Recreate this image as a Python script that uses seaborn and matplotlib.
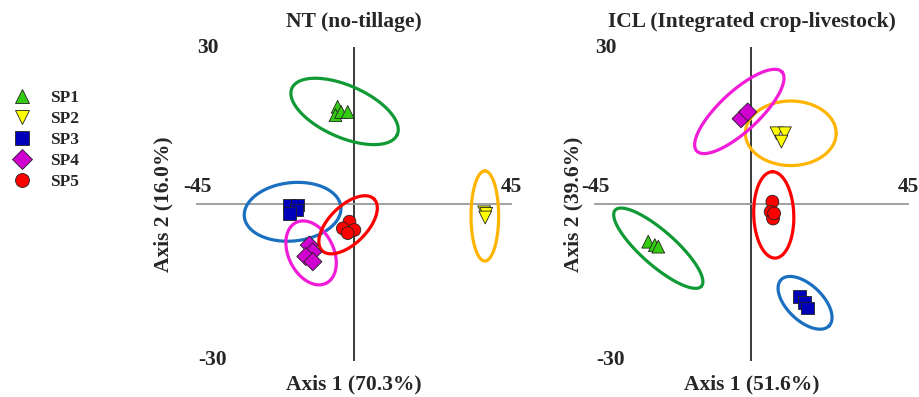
import numpy as np
import pandas as pd
import seaborn as sns
import matplotlib.pyplot as plt
from matplotlib.lines import Line2D

# PCA-like score plots for two systems, with hand-read confidence ellipses

species = ['SP1', 'SP2', 'SP3', 'SP4', 'SP5']
point_colors = ['#33cc11', '#ffff00', '#0000bb', '#d000d0', '#ff0000']
ring_colors = ['#109a35', '#ffb400', '#1a6fc0', '#f21bd8', '#ff0000']
marker_shapes = ['^', 'v', 's', 'D', 'o']

# NT (no-tillage) scores
nt_sp = ['SP1'] * 4 + ['SP2'] * 3 + ['SP3'] * 4 + ['SP4'] * 4 + ['SP5'] * 4
nt_x = [-4.7, -5.3, -3.7, -1.8,
        37.3, 37.9, 37.6,
        -18.5, -16.2, -16.4, -18.5,
        -12.8, -11.8, -13.8, -11.8,
        -1.3, -3.2, 0.1, -1.8]
nt_y = [18.7, 17.1, 17.7, 17.7,
        -1.6, -1.9, -2.6,
        -0.2, -0.2, -1.15, -1.8,
        -7.9, -9.2, -10.1, -11.1,
        -3.4, -4.7, -5.0, -5.6]

# ICL (integrated crop-livestock) scores
icl_sp = ['SP1'] * 3 + ['SP2'] * 3 + ['SP3'] * 3 + ['SP4'] * 2 + ['SP5'] * 4
icl_x = [-29.7, -27.8, -26.8,
         7.2, 9.6, 8.6,
         13.9, 15.3, 16.0,
         -3.0, -1.1,
         6.0, 5.5, 6.2, 6.5]
icl_y = [-7.25, -7.9, -8.2,
         13.6, 13.6, 12.0,
         -17.8, -19.0, -20.0,
         16.4, 17.7,
         0.45, -1.5, -2.8, -1.8]

# ellipses: centre (data units), semi axes (fraction of half range), angle (deg)
nt_ell_cx = [-2.7, 37.5, -17.6, -12.3, -1.7]
nt_ell_cy = [17.8, -2.3, -1.5, -9.4, -4.0]
nt_ell_a = [0.367, 0.289, 0.309, 0.217, 0.234]
nt_ell_b = [0.166, 0.088, 0.187, 0.144, 0.121]
nt_ell_ang = [-24, 90, 6, -64, 45]

icl_ell_cx = [-26.8, 11.3, 15.4, -3.5, 6.4]
icl_ell_cy = [-8.5, 13.6, -19.0, 17.8, -2.1]
icl_ell_a = [0.368, 0.29, 0.213, 0.372, 0.277]
icl_ell_b = [0.11, 0.207, 0.114, 0.127, 0.128]
icl_ell_ang = [-41.5, 0, -44, 43, 92]

titles = ['NT (no-tillage)', 'ICL (Integrated crop-livestock)']
xlabels = ['Axis 1 (70.3%)', 'Axis 1 (51.6%)']
ylabels = ['Axis 2 (16.0%)', 'Axis 2 (39.6%)']

sns.set_style('white')
plt.rcParams['font.family'] = ['Liberation Serif', 'DejaVu Serif']
plt.rcParams['font.weight'] = 'bold'

palette = dict(zip(species, point_colors))
markers = dict(zip(species, marker_shapes))

fig = plt.figure(figsize=(9.2, 3.97), dpi=100)
ax1 = fig.add_axes([197 / 920, 37 / 397, 314 / 920, 312 / 397])
ax2 = fig.add_axes([595 / 920, 37 / 397, 313 / 920, 312 / 397])

panels = [
    (ax1, pd.DataFrame({'sp': nt_sp, 'x': nt_x, 'y': nt_y}),
     (nt_ell_cx, nt_ell_cy, nt_ell_a, nt_ell_b, nt_ell_ang), -34),
    (ax2, pd.DataFrame({'sp': icl_sp, 'x': icl_x, 'y': icl_y}),
     (icl_ell_cx, icl_ell_cy, icl_ell_a, icl_ell_b, icl_ell_ang), -22),
]

fs = 15.5
t = np.linspace(0, 2 * np.pi, 300)
for i, (ax, df, ell, ylab_px) in enumerate(panels):
    ax.set_xlim(-45, 45)
    ax.set_ylim(-30, 30)

    # ellipses
    for k in range(len(species)):
        cx, cy, a, b, ang = ell[0][k], ell[1][k], ell[2][k], ell[3][k], ell[4][k]
        th = np.deg2rad(ang)
        nx = a * np.cos(t) * np.cos(th) - b * np.sin(t) * np.sin(th)
        ny = a * np.cos(t) * np.sin(th) + b * np.sin(t) * np.cos(th)
        ax.plot(cx + 45 * nx, cy + 30 * ny, color=ring_colors[k], lw=2.3,
                zorder=3, clip_on=False)

    sns.scatterplot(data=df, x='x', y='y', hue='sp', style='sp',
                    palette=palette, markers=markers, s=85,
                    edgecolor='#222222', linewidth=0.6, legend=False,
                    zorder=4, ax=ax)

    # crossed axes through the origin
    for side in ['top', 'right']:
        ax.spines[side].set_visible(False)
    ax.spines['left'].set_position(('data', 0))
    ax.spines['bottom'].set_position(('data', 0))
    ax.spines['left'].set_bounds(-30, 30)
    ax.spines['bottom'].set_bounds(-45, 45)
    ax.spines['left'].set_color('#3a3a3a')
    ax.spines['bottom'].set_color('#999999')
    ax.spines['left'].set_linewidth(1.4)
    ax.spines['bottom'].set_linewidth(1.3)
    ax.set_xticks([-45, 45])
    ax.set_yticks([-30, 30])
    ax.tick_params(axis='x', direction='inout', length=8, width=1.2,
                   colors='#999999', labelbottom=False)
    ax.tick_params(axis='y', direction='inout', length=8, width=1.2,
                   colors='#3a3a3a', labelleft=False)
    ax.set_xlabel('')
    ax.set_ylabel('')

    # end labels
    ax.text(-45, 1.4, '-45', ha='center', va='bottom', fontsize=fs, fontweight='bold')
    ax.text(45, 1.4, '45', ha='center', va='bottom', fontsize=fs, fontweight='bold')
    ax.text(-41.8, 30, '30', ha='center', va='center', fontsize=fs, fontweight='bold')
    ax.text(-40.6, -30, '-30', ha='center', va='center', fontsize=fs, fontweight='bold')

    ax.text(0.5, 1.083, titles[i], transform=ax.transAxes, ha='center',
            va='center', fontsize=fs, fontweight='bold')
    ax.text(0.5, -0.08, xlabels[i], transform=ax.transAxes, ha='center',
            va='center', fontsize=fs, fontweight='bold')
    ax.text(ylab_px / 314, 0.5, ylabels[i], transform=ax.transAxes, ha='center',
            va='center', rotation=90, fontsize=fs, fontweight='bold')

handles = [Line2D([], [], linestyle='none', marker=m, markersize=10,
                  markerfacecolor=c, markeredgecolor='#222222', markeredgewidth=0.6)
           for m, c in zip(marker_shapes, point_colors)]
fig.legend(handles, species, loc='upper left', bbox_to_anchor=(0.005, 0.79),
           frameon=False, fontsize=12.5, handlelength=1.2, handletextpad=1.0,
           labelspacing=0.27, borderaxespad=0)

fig.savefig('out.png', dpi=100)
